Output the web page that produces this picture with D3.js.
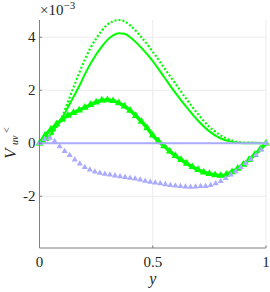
<!DOCTYPE html>
<html>
<head>
<meta charset="utf-8">
<script src="https://cdn.jsdelivr.net/npm/d3@7"></script>
<style>
  html, body { margin: 0; padding: 0; background: #fff; }
  svg { display: block; }
  svg text { font-family: "Liberation Serif", "DejaVu Serif", serif; }
</style>
</head>
<body>
<svg id="chart" width="270" height="292"></svg>
<script>
// values are in units of 1e-3
const xTicks = [0, 0.5, 1];
const xTickLabels = ['0', '0.5', '1'];
const yTicks = [-2, 0, 2, 4];
const yTickLabels = ['-2', '0', '2', '4'];

const xLine = [0, 0.025, 0.05, 0.075, 0.1, 0.125, 0.15, 0.175, 0.2, 0.225, 0.25, 0.275, 0.3, 0.325, 0.35, 0.375, 0.4,
  0.45, 0.5, 0.55, 0.6, 0.65, 0.7, 0.75, 0.8, 0.85, 0.9, 0.95, 1];
const greenDotted = [0, 0.05, 0.25, 0.6, 1.0, 1.55, 2.1, 2.65, 3.15, 3.6, 3.95, 4.25, 4.48, 4.6, 4.65, 4.6, 4.45,
  4.0, 3.45, 2.85, 2.25, 1.65, 1.1, 0.62, 0.3, 0.1, 0.03, 0.02, 0];
const greenSolid = [0, 0.1, 0.35, 0.65, 0.95, 1.35, 1.75, 2.15, 2.6, 3.0, 3.35, 3.65, 3.9, 4.07, 4.15, 4.13, 4.0,
  3.6, 3.1, 2.5, 1.9, 1.35, 0.85, 0.45, 0.18, 0.05, 0.0, 0.0, 0];

const xGreenTri = d3.range(41).map(i => i / 40);
const greenTri = [0, 0.3, 0.52, 0.72, 0.9, 1.05, 1.15, 1.25, 1.35, 1.45, 1.55, 1.62, 1.63, 1.6, 1.52, 1.4, 1.24,
  1.04, 0.82, 0.58, 0.3, 0.08, -0.1, -0.3, -0.47, -0.62, -0.76, -0.89, -1.0, -1.09, -1.15, -1.2, -1.22,
  -1.18, -1.08, -0.95, -0.8, -0.62, -0.43, -0.22, 0];

const xLavTri = d3.range(46).map(i => i / 45);
const lavTri = [0, 0.15, 0.2, 0.08, -0.12, -0.3, -0.45, -0.62, -0.77, -0.9, -1.0, -1.07, -1.12, -1.16, -1.19, -1.22,
  -1.25, -1.28, -1.31, -1.34, -1.38, -1.42, -1.46, -1.49, -1.52, -1.55, -1.58, -1.6, -1.62, -1.64, -1.65, -1.64,
  -1.62, -1.62, -1.58, -1.52, -1.43, -1.32, -1.19, -1.06, -0.9, -0.75, -0.6, -0.44, -0.24, 0];

const xLavLine = [0, 1];
const lavLine = [0, 0];

const GREEN = '#00ff00';
const LAV = '#aaaaff';
const TXT = '#262626';

const M = { left: 39.5, right: 266, top: 20, bottom: 248 };

const svg = d3.select('#chart');
const x = d3.scaleLinear().domain([0, 1]).range([M.left, M.right]);
const y = d3.scaleLinear().domain([-3.95, 4.65]).range([M.bottom, M.top]);

// grid
const grid = svg.append('g').attr('stroke', '#ebebeb').attr('stroke-width', 1);
xTicks.filter(t => t > 0).forEach(t => {
  grid.append('line').attr('x1', x(t)).attr('x2', x(t)).attr('y1', M.top).attr('y2', M.bottom);
});
yTicks.forEach(t => {
  grid.append('line').attr('x1', M.left).attr('x2', M.right).attr('y1', y(t)).attr('y2', y(t));
});

const plot = svg.append('g');
const line = (xs) => d3.line().x((d, i) => x(xs[i])).y(d => y(d));
const tri = d3.symbol().type(d3.symbolTriangle);

// green triangles (line + dense markers)
plot.append('path').datum(greenTri)
  .attr('d', line(xGreenTri).curve(d3.curveMonotoneX)).attr('fill', 'none')
  .attr('stroke', GREEN).attr('stroke-width', 3.5);
plot.selectAll('.gtri').data(greenTri).join('path')
  .attr('class', 'gtri')
  .attr('d', tri.size(26))
  .attr('transform', (d, i) => `translate(${x(xGreenTri[i])},${y(d)})`)
  .attr('fill', GREEN);

// green solid
plot.append('path').datum(greenSolid)
  .attr('d', line(xLine).curve(d3.curveMonotoneX)).attr('fill', 'none')
  .attr('stroke', GREEN).attr('stroke-width', 2);

// green dotted
plot.append('path').datum(greenDotted)
  .attr('d', line(xLine).curve(d3.curveMonotoneX)).attr('fill', 'none')
  .attr('stroke', GREEN).attr('stroke-width', 2.2)
  .attr('stroke-dasharray', '2,2');

// lavender triangles
plot.selectAll('.ltri').data(lavTri).join('path')
  .attr('class', 'ltri')
  .attr('d', tri.size(16))
  .attr('transform', (d, i) => `translate(${x(xLavTri[i])},${y(d)})`)
  .attr('fill', LAV);

// lavender line at zero
plot.append('path').datum(lavLine)
  .attr('d', line(xLavLine)).attr('fill', 'none')
  .attr('stroke', LAV).attr('stroke-width', 2);

// axes
const ax = svg.append('g').attr('stroke', '#808080').attr('stroke-width', 1).attr('fill', 'none');
ax.append('line').attr('x1', M.left).attr('x2', M.left).attr('y1', M.top).attr('y2', M.bottom);
ax.append('line').attr('x1', M.left).attr('x2', M.right).attr('y1', M.bottom).attr('y2', M.bottom);
yTicks.forEach(t => {
  ax.append('line').attr('x1', M.left).attr('x2', M.left + 2.5).attr('y1', y(t)).attr('y2', y(t));
});
xTicks.forEach(t => {
  ax.append('line').attr('x1', x(t)).attr('x2', x(t)).attr('y1', M.bottom).attr('y2', M.bottom - 2.5);
});

// tick labels
svg.selectAll('.ylab').data(yTicks).join('text')
  .attr('x', M.left - 4).attr('y', d => y(d) + 5)
  .attr('text-anchor', 'end').attr('font-size', 15).attr('fill', TXT)
  .text((d, i) => yTickLabels[i]);
svg.selectAll('.xlab').data(xTicks).join('text')
  .attr('x', d => x(d)).attr('y', 267)
  .attr('text-anchor', 'middle').attr('font-size', 15).attr('fill', TXT)
  .text((d, i) => xTickLabels[i]);

// exponent
const ex = svg.append('text').attr('x', 40).attr('y', 15).attr('font-size', 15).attr('fill', TXT);
ex.append('tspan').text('×10');
ex.append('tspan').attr('dy', -6).attr('font-size', 11).text('−3');

// x label
svg.append('text').attr('x', x(0.5)).attr('y', 284)
  .attr('text-anchor', 'middle').attr('font-size', 16).attr('font-style', 'italic')
  .attr('fill', TXT).text('y');

// y label
const yl = svg.append('g').attr('transform', 'translate(16,160) rotate(-90)')
  .attr('fill', TXT).attr('font-style', 'italic');
yl.append('text').attr('x', 1).attr('y', 0).attr('font-size', 17).text('V');
yl.append('text').attr('x', 15).attr('y', 2).attr('font-size', 10).text('uv');
yl.append('text').attr('x', 27).attr('y', -6).attr('font-size', 10).attr('font-style', 'normal').text('<');
</script>
</body>
</html>
